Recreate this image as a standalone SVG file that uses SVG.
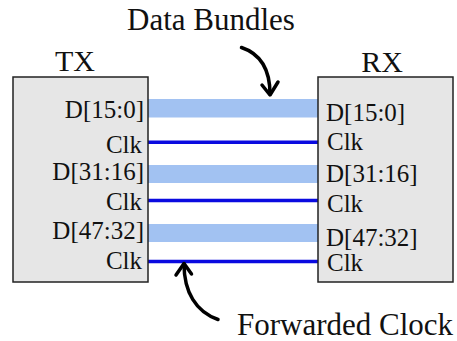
<svg xmlns="http://www.w3.org/2000/svg" width="457" height="341" viewBox="0 0 457 341">
  <defs>
    <style>
      .t { fill: #111; }
      .title { font-size: 30px; }
      .port { font-size: 25px; }
      .box { fill: #e6e6e6; stroke: #222; stroke-width: 1.5; }
      .band { fill: #a2c2f2; }
      .clk { stroke: #0a0ae0; stroke-width: 3.5; fill: none; }
      .arrow { stroke: #000; stroke-width: 3.5; fill: none; stroke-linecap: round; stroke-linejoin: round; }
    </style>
  </defs>
  <rect width="457" height="341" fill="#fff"/>

  <g id="connectors">
    <rect class="band" x="148" y="99" width="170" height="18.5"/>
    <line class="clk" x1="148" y1="142.3" x2="318" y2="142.3"/>
    <rect class="band" x="148" y="165" width="170" height="18"/>
    <line class="clk" x1="148" y1="200.5" x2="318" y2="200.5"/>
    <rect class="band" x="148" y="224" width="170" height="18"/>
    <line class="clk" x1="148" y1="261.5" x2="318" y2="261.5"/>
  </g>

  <g font-family="Liberation Serif, DejaVu Serif, serif">
  <g id="tx">
    <rect class="box" x="13" y="77" width="135" height="205"/>
    <text class="t title" x="75" y="71" text-anchor="middle">TX</text>
    <text class="t port" x="144" y="117.5" text-anchor="end">D[15:0]</text>
    <text class="t port" x="142" y="153" text-anchor="end">Clk</text>
    <text class="t port" x="144" y="180" text-anchor="end">D[31:16]</text>
    <text class="t port" x="142" y="210" text-anchor="end">Clk</text>
    <text class="t port" x="144" y="239" text-anchor="end">D[47:32]</text>
    <text class="t port" x="142" y="269" text-anchor="end">Clk</text>
  </g>

  <g id="rx">
    <rect class="box" x="318" y="77" width="135" height="205"/>
    <text class="t title" x="382" y="72" text-anchor="middle">RX</text>
    <text class="t port" x="326" y="120.5">D[15:0]</text>
    <text class="t port" x="327" y="150">Clk</text>
    <text class="t port" x="326" y="182">D[31:16]</text>
    <text class="t port" x="327" y="212">Clk</text>
    <text class="t port" x="326" y="246">D[47:32]</text>
    <text class="t port" x="327" y="270.5">Clk</text>
  </g>

  <g id="data-bundles-label">
    <text class="t title" x="211" y="30" text-anchor="middle" style="font-size:31px">Data Bundles</text>
    <path class="arrow" d="M241.5,47.5 C258,53 270,66 270,94"/>
    <path class="arrow" d="M262,85 L270,95 L278,82"/>
  </g>

  <g id="forwarded-clock-label">
    <text class="t title" x="237" y="335" style="font-size:31px">Forwarded Clock</text>
    <path class="arrow" d="M218,319.5 C196,312 184,292 184,264"/>
    <path class="arrow" d="M176,275 L184,263.5 L191.5,274"/>
  </g>
  </g>
</svg>
